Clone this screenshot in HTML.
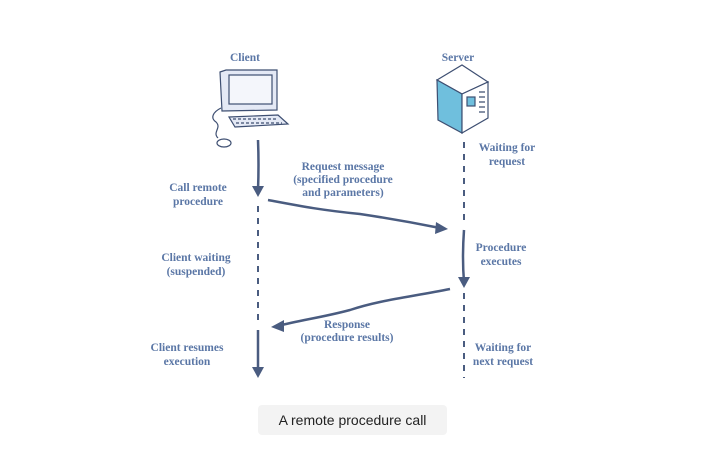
<!DOCTYPE html>
<html><head><meta charset="utf-8"><style>
html,body{margin:0;padding:0;background:#fff;width:706px;height:455px;overflow:hidden}
svg text{font-family:"Liberation Serif",serif;font-weight:bold;font-size:11.5px;fill:#5b77a6;text-anchor:middle}
.cap{position:absolute;left:258px;top:405px;width:189px;height:30px;background:#f3f3f3;border-radius:4px;font:14px "Liberation Sans",sans-serif;color:#222;text-align:center;line-height:30px}
</style></head><body>
<svg width="706" height="455" style="position:absolute;left:0;top:0">
<g stroke="#3e4f72" stroke-width="1.2" fill="none">
<path d="M220 72 L226 70 L277 70 L277 110 L222 111 Z" fill="#e4e9f5"/>
<rect x="229" y="75" width="43" height="29" fill="#f4f6fb"/>
<path d="M229 117 L278 115 L288 124 L235 127 Z" fill="#e4e9f5"/>
<path d="M233 119 h45 M236 123 h46" stroke-dasharray="3 2"/>
<path d="M221 108 C213 112 210 118 216 122 C222 128 212 132 218 138" />
<ellipse cx="224" cy="143" rx="7" ry="4" fill="#fff"/>
<path d="M437 80 L462 65 L488 82 L462 94 Z" fill="#fff"/>
<path d="M437 80 L462 94 L462 133 L438 120 Z" fill="#6fbfdd"/>
<path d="M462 94 L488 82 L488 118 L462 133 Z" fill="#fff"/>
<rect x="467" y="97" width="8" height="9" fill="#6fbfdd"/>
<path d="M479 92 h6 M479 97 h6 M479 102 h6 M479 107 h6 M479 112 h6"/>
</g>
<g stroke="#4a5c80" stroke-width="2.5" fill="none">
<path d="M258 140 Q259 165 258 190"/>
<path d="M258 206 V326" stroke-dasharray="6 6" stroke-width="2"/>
<path d="M258 330 V372"/>
<path d="M464 142 V226" stroke-dasharray="6 6" stroke-width="2"/>
<path d="M464 230 Q462 258 464 282"/>
<path d="M464 293 V378" stroke-dasharray="6 6" stroke-width="2"/>
<path d="M268 200 C300 206 320 210 360 214 C400 220 420 224 440 228"/>
<path d="M450 289 C410 297 380 300 350 310 C320 318 300 320 278 326"/>
</g>
<g fill="#4a5c80">
<path d="M252 186 L264 186 L258 197 Z"/>
<path d="M252 367 L264 367 L258 378 Z"/>
<path d="M458 277 L470 277 L464 288 Z"/>
<path d="M436 222 L448 229 L435 234 Z"/>
<path d="M284 320 L271 327 L284 332 Z"/>
</g>
<text x="245" y="61">Client</text>
<text x="458" y="61">Server</text>
<text x="343" y="170">Request message</text>
<text x="343" y="183">(specified procedure</text>
<text x="343" y="196">and parameters)</text>
<text x="198" y="191">Call remote</text>
<text x="198" y="205">procedure</text>
<text x="507" y="151">Waiting for</text>
<text x="507" y="165">request</text>
<text x="196" y="261">Client waiting</text>
<text x="196" y="275">(suspended)</text>
<text x="501" y="251">Procedure</text>
<text x="501" y="265">executes</text>
<text x="347" y="328">Response</text>
<text x="347" y="341">(procedure results)</text>
<text x="187" y="351">Client resumes</text>
<text x="187" y="365">execution</text>
<text x="503" y="351">Waiting for</text>
<text x="503" y="365">next request</text>
</svg>
<div class="cap">A remote procedure call</div>
</body></html>
